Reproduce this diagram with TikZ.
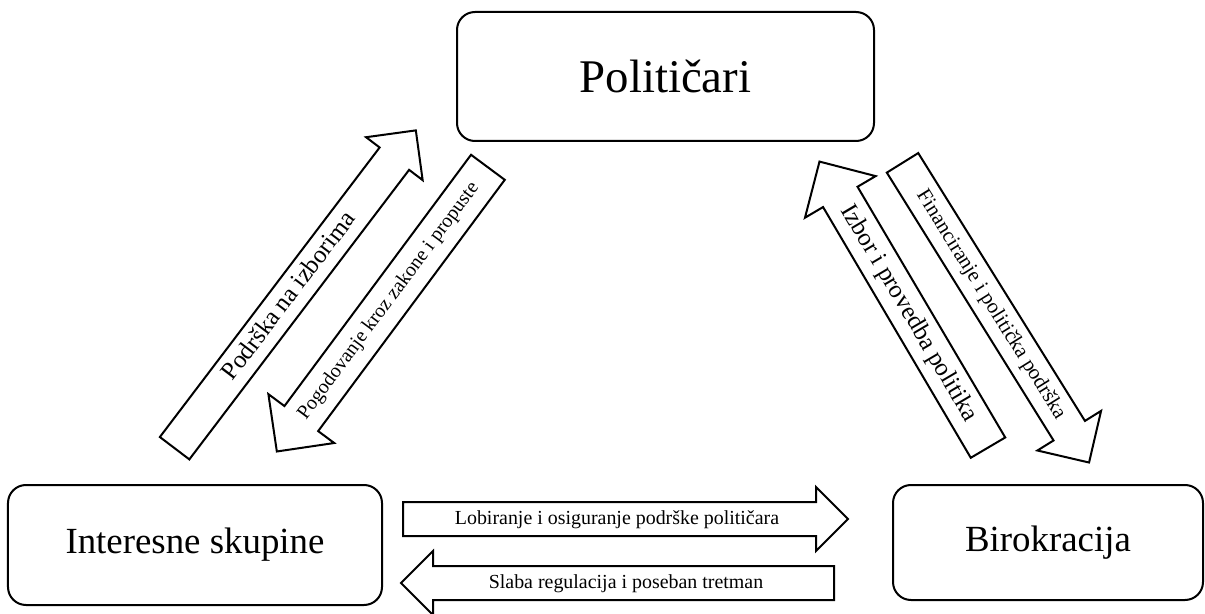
\documentclass[tikz,border=0pt]{standalone}
\usepackage{fontspec}
\setmainfont{Liberation Serif}
\usepackage{tikz}
\usetikzlibrary{shapes,arrows,positioning}
\tikzstyle{actor} = [rectangle, draw, line width=2bp, rounded corners=18bp, align=center]
\tikzstyle{blockarrow} = [single arrow, draw, line width=2bp, inner xsep=0pt, inner ysep=0pt, single arrow tip angle=90, anchor=tail]

\begin{document}
\begin{tikzpicture}[x=1bp, y=-1bp]
    \useasboundingbox (0,0) rectangle (1205,614);

    % Actors
    \node[actor, minimum width=417bp, minimum height=129bp, font=\fontsize{47}{50}\selectfont] (pol) at (665.5,76.5) {Političari};
    \node[actor, minimum width=374bp, minimum height=120bp, font=\fontsize{37}{40}\selectfont] (int) at (195,545) {Interesne skupine};
    \node[actor, minimum width=310bp, minimum height=115bp, font=\fontsize{37}{40}\selectfont] (bir) at (1048,542.5) {Birokracija};

    % Interest groups and politicians
    \node[blockarrow, rotate=52.8, minimum height=399bp, minimum width=69bp, single arrow head extend=17bp,
          text height=23.75bp, text depth=11.25bp, font=\fontsize{25}{27}\selectfont] (podrska) at (174,449) {Podrška na izborima};
    \node[blockarrow, rotate=53.4, shape border rotate=180, minimum height=354bp, minimum width=80bp, single arrow head extend=20bp,
          text height=25bp, text depth=15bp, font=\fontsize{20}{22}\selectfont] (pogod) at (488.5,166.5) {Pogodovanje kroz zakone i propuste};

    % Bureaucracy and politicians
    \node[blockarrow, rotate=-59.5, shape border rotate=180, minimum height=332bp, minimum width=80bp, single arrow head extend=21bp,
          text height=25.25bp, text depth=12.75bp, font=\fontsize{25}{27}\selectfont] (izbor) at (988.5,448.5) {Izbor i provedba politika};
    \node[blockarrow, rotate=-58.1, minimum height=353bp, minimum width=73bp, single arrow head extend=19bp,
          text height=22.75bp, text depth=12.25bp, font=\fontsize{21}{23}\selectfont] (financ) at (902,162) {Financiranje i politička podrška};

    % Interest groups and bureaucracy
    \node[blockarrow, minimum height=445bp, minimum width=62bp, single arrow head extend=15bp,
          text height=21bp, text depth=11bp, font=\fontsize{20}{22}\selectfont] (lobi) at (402,519) {Lobiranje i osiguranje podrške političara};
    \node[blockarrow, shape border rotate=180, minimum height=433bp, minimum width=62bp, single arrow head extend=15bp,
          text height=21bp, text depth=11bp, font=\fontsize{20}{22}\selectfont] (slaba) at (835,583) {Slaba regulacija i poseban tretman};
\end{tikzpicture}
\end{document}
